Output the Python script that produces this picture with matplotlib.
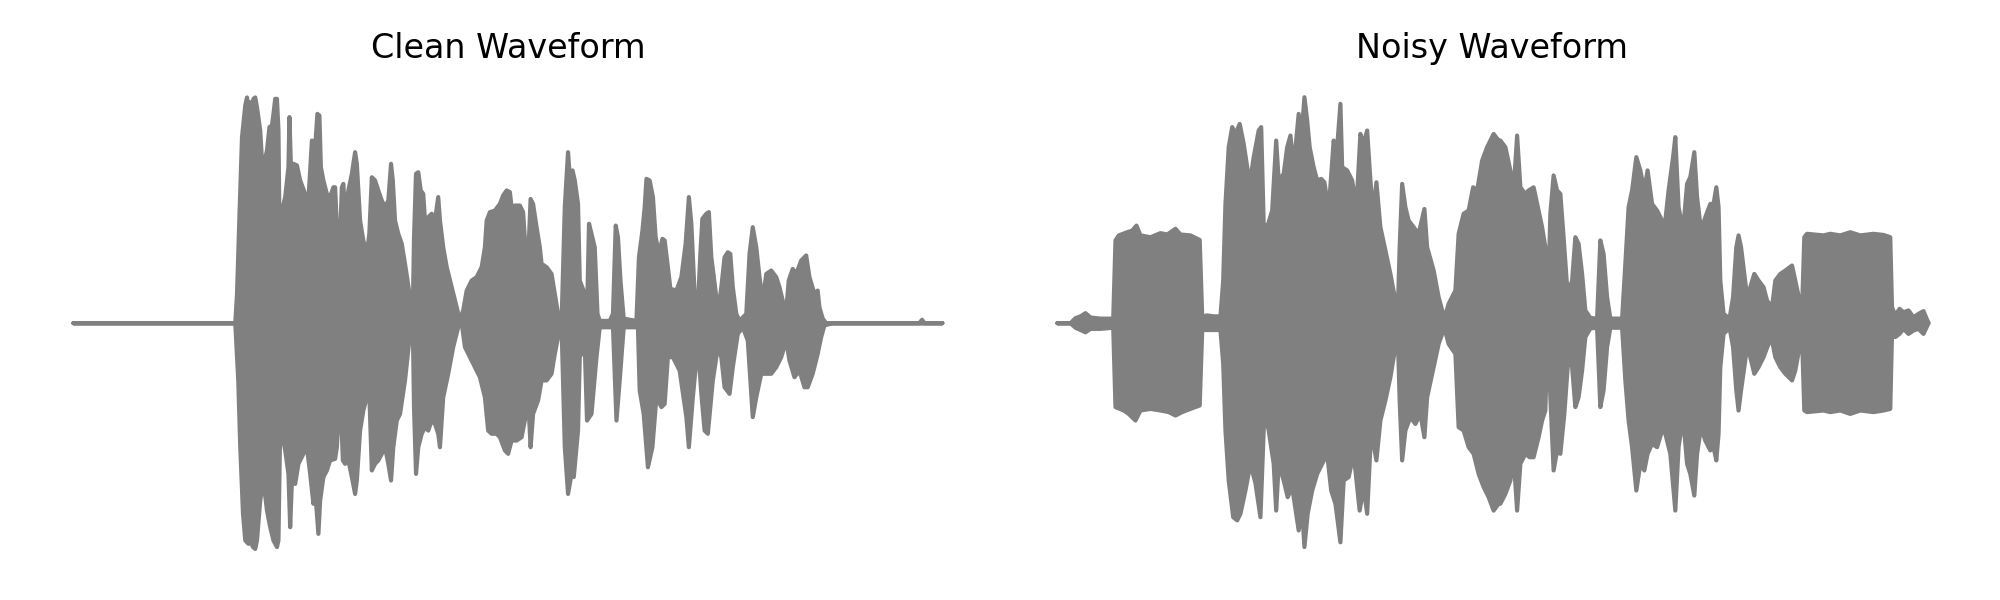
import matplotlib
matplotlib.use('Agg')
import matplotlib.pyplot as plt

# envelope of the clean waveform (time in s, amplitude normalised)
clean_top_t = [0.0, 0.648, 0.655, 0.665, 0.675, 0.688, 0.695, 0.701, 0.708, 0.715, 0.721, 0.728, 0.735,
               0.748, 0.755, 0.764, 0.775, 0.785, 0.795, 0.801, 0.808, 0.815, 0.821, 0.825, 0.835, 0.848,
               0.861, 0.865, 0.871, 0.881, 0.895, 0.908, 0.928, 0.941, 0.955, 0.968, 0.977, 0.985, 0.991,
               1.001, 1.015, 1.028, 1.041, 1.048, 1.055, 1.065, 1.075, 1.081, 1.088, 1.101, 1.115, 1.128,
               1.135, 1.148, 1.161, 1.175, 1.185, 1.195, 1.208, 1.221, 1.235, 1.248, 1.261, 1.272, 1.279,
               1.288, 1.301, 1.315, 1.328, 1.348, 1.359, 1.364, 1.372, 1.381, 1.391, 1.401, 1.408, 1.421,
               1.435, 1.448, 1.461, 1.468, 1.481, 1.495, 1.515, 1.535, 1.548, 1.561, 1.575, 1.595, 1.615,
               1.635, 1.648, 1.655, 1.668, 1.688, 1.708, 1.721, 1.735, 1.748, 1.755, 1.768, 1.788, 1.801,
               1.812, 1.821, 1.831, 1.841, 1.855, 1.868, 1.875, 1.895, 1.915, 1.928, 1.941, 1.955, 1.968,
               1.975, 1.981, 1.988, 1.999, 2.008, 2.021, 2.028, 2.048, 2.057, 2.065, 2.075, 2.088, 2.099,
               2.108, 2.148, 2.161, 2.172, 2.181, 2.191, 2.204, 2.255, 2.265, 2.279, 2.288, 2.295, 2.308,
               2.321, 2.332, 2.345, 2.359, 2.368, 2.381, 2.391, 2.415, 2.435, 2.452, 2.465, 2.475, 2.488,
               2.501, 2.511, 2.519, 2.535, 2.545, 2.555, 2.575, 2.581, 2.595, 2.608, 2.621, 2.631, 2.641,
               2.655, 2.668, 2.695, 2.708, 2.721, 2.735, 2.748, 2.761, 2.775, 2.795, 2.815, 2.828, 2.841,
               2.855, 2.865, 2.881, 2.895, 2.915, 2.935, 2.948, 2.968, 2.981, 2.988, 3.001, 3.015, 3.388,
               3.399, 3.409, 3.48]
clean_top = [0.0, 0.0, 0.129, 0.48, 0.816, 0.955, 0.99, 0.947, 0.969, 0.955, 0.984, 0.99, 0.947,
             0.845, 0.713, 0.706, 0.757, 0.86, 0.867, 0.918, 0.984, 0.984, 0.845, 0.436, 0.494, 0.553,
             0.684, 0.904, 0.684, 0.699, 0.692, 0.626, 0.567, 0.538, 0.801, 0.772, 0.918, 0.911, 0.684,
             0.626, 0.567, 0.553, 0.596, 0.596, 0.421, 0.289, 0.596, 0.611, 0.465, 0.582, 0.655, 0.75,
             0.699, 0.45, 0.363, 0.304, 0.392, 0.64, 0.626, 0.582, 0.538, 0.509, 0.538, 0.699, 0.626,
             0.45, 0.392, 0.348, 0.26, 0.114, 0.041, 0.377, 0.655, 0.662, 0.582, 0.567, 0.45, 0.465,
             0.48, 0.45, 0.553, 0.45, 0.333, 0.246, 0.158, 0.07, 0.012, 0.056, 0.143, 0.187, 0.202,
             0.246, 0.333, 0.45, 0.487, 0.494, 0.523, 0.56, 0.582, 0.575, 0.509, 0.516, 0.516, 0.487,
             0.304, 0.275, 0.545, 0.523, 0.421, 0.333, 0.26, 0.246, 0.216, 0.129, 0.041, 0.0, 0.509,
             0.64, 0.75, 0.64, 0.67, 0.626, 0.523, 0.187, 0.129, 0.041, 0.436, 0.392, 0.333, 0.041,
             0.01, 0.01, 0.041, 0.428, 0.377, 0.187, 0.02, 0.01, 0.289, 0.406, 0.509, 0.633, 0.626,
             0.553, 0.377, 0.304, 0.37, 0.363, 0.246, 0.151, 0.143, 0.202, 0.348, 0.553, 0.436, 0.129,
             0.07, 0.304, 0.458, 0.48, 0.487, 0.289, 0.114, 0.041, 0.158, 0.289, 0.311, 0.304, 0.158,
             0.041, 0.01, 0.041, 0.304, 0.421, 0.333, 0.202, 0.099, 0.216, 0.231, 0.202, 0.158, 0.099,
             0.056, 0.187, 0.238, 0.216, 0.275, 0.297, 0.202, 0.129, 0.143, 0.07, 0.02, 0.0, 0.0,
             0.015, 0.0, 0.0]

clean_bot_t = [0.0, 0.648, 0.66, 0.668, 0.679, 0.688, 0.701, 0.708, 0.719, 0.728, 0.735, 0.748, 0.761,
               0.775, 0.788, 0.801, 0.815, 0.821, 0.828, 0.835, 0.848, 0.861, 0.868, 0.875, 0.888, 0.901,
               0.921, 0.935, 0.948, 0.961, 0.968, 0.981, 0.988, 1.001, 1.015, 1.028, 1.048, 1.055, 1.068,
               1.079, 1.088, 1.101, 1.115, 1.128, 1.135, 1.148, 1.161, 1.175, 1.185, 1.195, 1.208, 1.221,
               1.235, 1.248, 1.261, 1.272, 1.281, 1.295, 1.308, 1.328, 1.348, 1.359, 1.364, 1.372, 1.381,
               1.395, 1.408, 1.421, 1.435, 1.448, 1.461, 1.468, 1.481, 1.501, 1.521, 1.541, 1.555, 1.568,
               1.588, 1.608, 1.628, 1.648, 1.661, 1.675, 1.695, 1.708, 1.728, 1.741, 1.755, 1.775, 1.795,
               1.808, 1.821, 1.831, 1.841, 1.861, 1.875, 1.895, 1.915, 1.928, 1.941, 1.955, 1.968, 1.981,
               1.995, 2.004, 2.021, 2.028, 2.048, 2.057, 2.075, 2.095, 2.108, 2.161, 2.175, 2.188, 2.204,
               2.261, 2.268, 2.284, 2.301, 2.319, 2.335, 2.355, 2.368, 2.381, 2.401, 2.428, 2.455, 2.465,
               2.481, 2.501, 2.515, 2.528, 2.541, 2.561, 2.581, 2.595, 2.608, 2.628, 2.641, 2.661, 2.681,
               2.701, 2.721, 2.735, 2.755, 2.795, 2.815, 2.835, 2.855, 2.868, 2.888, 2.908, 2.928, 2.941,
               2.961, 2.981, 2.995, 3.008, 3.041, 3.48]
clean_bot = [0.0, 0.0, -0.251, -0.544, -0.836, -0.953, -0.968, -0.953, -0.982, -0.99, -0.953, -0.778, -0.69,
             -0.822, -0.895, -0.953, -0.982, -0.953, -0.456, -0.485, -0.558, -0.661, -0.895, -0.69, -0.705, -0.617,
             -0.573, -0.544, -0.661, -0.792, -0.734, -0.924, -0.778, -0.675, -0.646, -0.602, -0.595, -0.544, -0.281,
             -0.602, -0.617, -0.602, -0.675, -0.749, -0.69, -0.471, -0.383, -0.325, -0.31, -0.646, -0.617, -0.602,
             -0.573, -0.544, -0.617, -0.69, -0.544, -0.427, -0.398, -0.251, -0.047, 0.0, -0.368, -0.661, -0.544,
             -0.485, -0.456, -0.471, -0.427, -0.442, -0.485, -0.544, -0.325, -0.222, -0.105, -0.018, 0.0, -0.105,
             -0.149, -0.193, -0.237, -0.325, -0.471, -0.485, -0.485, -0.5, -0.558, -0.573, -0.515, -0.515, -0.5,
             -0.427, -0.325, -0.544, -0.398, -0.339, -0.251, -0.251, -0.222, -0.135, -0.061, -0.01, -0.544, -0.749,
             -0.661, -0.675, -0.471, -0.149, -0.105, -0.427, -0.398, -0.149, -0.018, -0.018, -0.427, -0.251, -0.018,
             -0.018, -0.295, -0.398, -0.632, -0.544, -0.325, -0.368, -0.354, -0.149, -0.149, -0.208, -0.412, -0.544,
             -0.325, -0.091, -0.31, -0.471, -0.485, -0.251, -0.105, -0.149, -0.281, -0.31, -0.193, -0.047, -0.018,
             -0.076, -0.412, -0.325, -0.222, -0.222, -0.193, -0.149, -0.076, -0.164, -0.237, -0.208, -0.281, -0.281,
             -0.222, -0.135, -0.061, -0.01, 0.0, 0.0]

# envelope of the noisy waveform
noisy_top_t = [0.0, 0.052, 0.072, 0.092, 0.112, 0.132, 0.172, 0.205, 0.223, 0.232, 0.245, 0.279, 0.299,
               0.316, 0.332, 0.372, 0.412, 0.439, 0.472, 0.492, 0.532, 0.569, 0.579, 0.599, 0.625, 0.652,
               0.663, 0.672, 0.685, 0.699, 0.712, 0.729, 0.745, 0.769, 0.785, 0.805, 0.815, 0.825, 0.839,
               0.859, 0.875, 0.885, 0.905, 0.919, 0.932, 0.945, 0.965, 0.975, 0.988, 0.999, 1.009, 1.025,
               1.039, 1.055, 1.068, 1.085, 1.105, 1.116, 1.132, 1.139, 1.159, 1.179, 1.196, 1.212, 1.225,
               1.239, 1.252, 1.263, 1.276, 1.292, 1.312, 1.332, 1.352, 1.361, 1.369, 1.379, 1.392, 1.405,
               1.425, 1.445, 1.468, 1.479, 1.505, 1.525, 1.548, 1.565, 1.592, 1.605, 1.625, 1.645, 1.663,
               1.679, 1.699, 1.719, 1.745, 1.765, 1.772, 1.792, 1.812, 1.825, 1.839, 1.852, 1.872, 1.885,
               1.905, 1.925, 1.939, 1.952, 1.961, 1.972, 1.985, 1.999, 2.012, 2.025, 2.041, 2.059, 2.072,
               2.085, 2.099, 2.112, 2.132, 2.159, 2.172, 2.185, 2.199, 2.212, 2.259, 2.272, 2.285, 2.299,
               2.316, 2.332, 2.348, 2.361, 2.379, 2.399, 2.419, 2.432, 2.445, 2.463, 2.472, 2.485, 2.503,
               2.519, 2.532, 2.548, 2.559, 2.575, 2.592, 2.612, 2.625, 2.636, 2.645, 2.652, 2.665, 2.689,
               2.703, 2.716, 2.725, 2.735, 2.748, 2.761, 2.772, 2.788, 2.805, 2.825, 2.839, 2.859, 2.872,
               2.892, 2.912, 2.939, 2.952, 2.969, 2.979, 2.988, 2.999, 3.065, 3.092, 3.132, 3.172, 3.212,
               3.265, 3.305, 3.332, 3.339, 3.352, 3.369, 3.385, 3.405, 3.425, 3.445, 3.465, 3.485]
noisy_top = [0.0, 0.0, 0.022, 0.03, 0.044, 0.025, 0.02, 0.02, 0.02, 0.363, 0.385, 0.399, 0.406,
             0.428, 0.385, 0.377, 0.395, 0.389, 0.414, 0.389, 0.385, 0.365, 0.03, 0.034, 0.03, 0.03,
             0.187, 0.523, 0.772, 0.86, 0.83, 0.874, 0.787, 0.611, 0.728, 0.845, 0.86, 0.436, 0.421,
             0.494, 0.801, 0.626, 0.655, 0.772, 0.823, 0.684, 0.918, 0.801, 0.991, 0.889, 0.772, 0.684,
             0.626, 0.633, 0.618, 0.494, 0.801, 0.728, 0.962, 0.684, 0.67, 0.626, 0.509, 0.83, 0.787,
             0.845, 0.626, 0.48, 0.618, 0.421, 0.319, 0.216, 0.099, 0.03, 0.333, 0.611, 0.509, 0.45,
             0.421, 0.392, 0.501, 0.333, 0.231, 0.114, 0.02, 0.085, 0.143, 0.392, 0.48, 0.494, 0.596,
             0.582, 0.713, 0.772, 0.83, 0.801, 0.801, 0.772, 0.67, 0.582, 0.823, 0.596, 0.567, 0.582,
             0.596, 0.494, 0.421, 0.333, 0.03, 0.48, 0.648, 0.582, 0.567, 0.377, 0.129, 0.187, 0.377,
             0.348, 0.216, 0.056, 0.023, 0.02, 0.363, 0.304, 0.114, 0.02, 0.02, 0.26, 0.509, 0.582,
             0.728, 0.67, 0.582, 0.67, 0.523, 0.494, 0.45, 0.45, 0.582, 0.728, 0.816, 0.509, 0.406,
             0.611, 0.641, 0.75, 0.553, 0.406, 0.465, 0.523, 0.523, 0.596, 0.509, 0.187, 0.041, 0.02,
             0.114, 0.333, 0.385, 0.333, 0.216, 0.099, 0.158, 0.216, 0.187, 0.158, 0.099, 0.07, 0.187,
             0.216, 0.231, 0.253, 0.187, 0.099, 0.056, 0.377, 0.392, 0.385, 0.392, 0.385, 0.399, 0.385,
             0.392, 0.387, 0.377, 0.07, 0.034, 0.063, 0.048, 0.056, 0.026, 0.041, 0.053, 0.0]

noisy_bot_t = [0.0, 0.052, 0.072, 0.092, 0.112, 0.132, 0.172, 0.223, 0.232, 0.265, 0.285, 0.312, 0.332,
               0.372, 0.412, 0.445, 0.472, 0.499, 0.532, 0.569, 0.579, 0.625, 0.652, 0.663, 0.672, 0.685,
               0.703, 0.719, 0.732, 0.752, 0.772, 0.792, 0.812, 0.828, 0.845, 0.865, 0.875, 0.885, 0.905,
               0.921, 0.939, 0.965, 0.979, 0.988, 1.001, 1.019, 1.039, 1.059, 1.079, 1.095, 1.112, 1.132,
               1.145, 1.165, 1.185, 1.209, 1.225, 1.239, 1.255, 1.276, 1.292, 1.312, 1.332, 1.352, 1.361,
               1.369, 1.379, 1.392, 1.412, 1.432, 1.452, 1.468, 1.479, 1.505, 1.525, 1.548, 1.565, 1.592,
               1.605, 1.625, 1.645, 1.665, 1.685, 1.705, 1.725, 1.745, 1.765, 1.772, 1.792, 1.812, 1.825,
               1.839, 1.852, 1.872, 1.889, 1.905, 1.925, 1.939, 1.952, 1.961, 1.972, 1.985, 1.999, 2.012,
               2.028, 2.045, 2.059, 2.072, 2.085, 2.099, 2.112, 2.132, 2.159, 2.172, 2.185, 2.199, 2.212,
               2.259, 2.272, 2.285, 2.299, 2.316, 2.332, 2.348, 2.361, 2.379, 2.399, 2.419, 2.432, 2.452,
               2.472, 2.485, 2.503, 2.519, 2.532, 2.548, 2.559, 2.575, 2.592, 2.612, 2.625, 2.636, 2.645,
               2.652, 2.665, 2.689, 2.703, 2.716, 2.725, 2.735, 2.748, 2.761, 2.772, 2.788, 2.805, 2.825,
               2.845, 2.859, 2.872, 2.892, 2.912, 2.939, 2.952, 2.969, 2.979, 2.988, 2.999, 3.065, 3.092,
               3.132, 3.172, 3.212, 3.265, 3.305, 3.332, 3.339, 3.352, 3.369, 3.385, 3.405, 3.425, 3.445,
               3.465, 3.485]
noisy_bot = [0.0, 0.0, -0.02, -0.03, -0.04, -0.025, -0.025, -0.02, -0.368, -0.383, -0.398, -0.427, -0.383,
             -0.376, -0.383, -0.39, -0.405, -0.39, -0.376, -0.361, -0.03, -0.03, -0.03, -0.178, -0.471, -0.69,
             -0.851, -0.865, -0.836, -0.734, -0.617, -0.702, -0.851, -0.383, -0.471, -0.617, -0.822, -0.617, -0.69,
             -0.763, -0.719, -0.909, -0.819, -0.982, -0.836, -0.734, -0.661, -0.617, -0.573, -0.734, -0.792, -0.961,
             -0.69, -0.675, -0.573, -0.822, -0.719, -0.836, -0.471, -0.602, -0.427, -0.339, -0.237, -0.105, -0.03,
             -0.339, -0.602, -0.471, -0.412, -0.442, -0.398, -0.5, -0.325, -0.193, -0.091, -0.02, -0.091, -0.135,
             -0.456, -0.471, -0.544, -0.573, -0.661, -0.719, -0.763, -0.822, -0.792, -0.792, -0.749, -0.69, -0.588,
             -0.822, -0.617, -0.573, -0.588, -0.588, -0.5, -0.427, -0.383, -0.03, -0.325, -0.646, -0.558, -0.573,
             -0.398, -0.135, -0.193, -0.368, -0.325, -0.208, -0.061, -0.023, -0.02, -0.368, -0.295, -0.105, -0.02,
             -0.02, -0.251, -0.427, -0.544, -0.734, -0.617, -0.646, -0.573, -0.529, -0.544, -0.471, -0.485, -0.573,
             -0.822, -0.544, -0.412, -0.617, -0.661, -0.756, -0.573, -0.456, -0.515, -0.558, -0.544, -0.602, -0.485,
             -0.193, -0.047, -0.02, -0.105, -0.295, -0.383, -0.295, -0.193, -0.091, -0.149, -0.222, -0.193, -0.149,
             -0.091, -0.076, -0.149, -0.193, -0.222, -0.251, -0.208, -0.105, -0.061, -0.383, -0.39, -0.383, -0.39,
             -0.383, -0.398, -0.383, -0.39, -0.383, -0.376, -0.047, -0.061, -0.047, -0.025, -0.047, -0.032, -0.025,
             -0.047, 0.0]

wave_color = 'gray'

fig = plt.figure(figsize=(10, 3), dpi=200)
ax_clean = fig.add_axes([0.0365, 0.0632, 0.435, 0.798])
ax_noisy = fig.add_axes([0.5285, 0.0632, 0.4355, 0.798])

panels = [
    (ax_clean, 'Clean Waveform', clean_top_t, clean_top, clean_bot_t, clean_bot),
    (ax_noisy, 'Noisy Waveform', noisy_top_t, noisy_top, noisy_bot_t, noisy_bot),
]
for ax, title, top_t, top, bot_t, bot in panels:
    ax.fill_between(top_t, 0, top, facecolor=wave_color, edgecolor=wave_color,
                    linewidth=1.5, joinstyle='round', clip_on=False)
    ax.fill_between(bot_t, bot, 0, facecolor=wave_color, edgecolor=wave_color,
                    linewidth=1.5, joinstyle='round', clip_on=False)
    ax.set_xlim(0, 3.485)
    ax.set_ylim(-1.05, 1.05)
    ax.set_title(title, fontsize=12, pad=9)
    ax.axis('off')

fig.savefig('out.png', dpi=200)
